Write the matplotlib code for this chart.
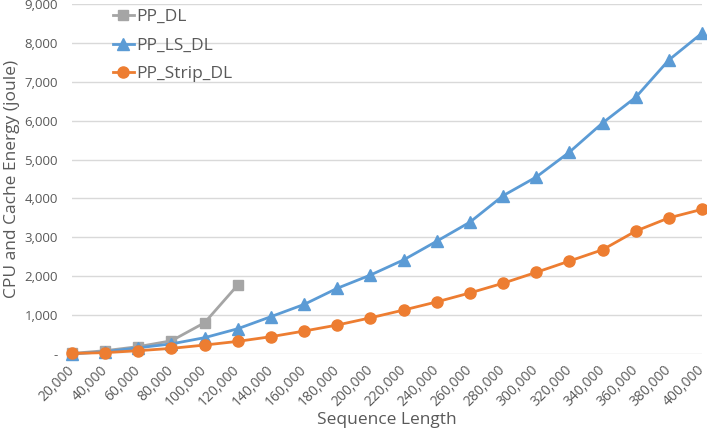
import matplotlib
matplotlib.use("Agg")
import matplotlib.pyplot as plt
from matplotlib.ticker import FuncFormatter

categories = ["20,000", "40,000", "60,000", "80,000", "100,000", "120,000", "140,000",
              "160,000", "180,000", "200,000", "220,000", "240,000", "260,000", "280,000",
              "300,000", "320,000", "340,000", "360,000", "380,000", "400,000"]
pp_dl = [15, 85, 190, 340, 805, 1775]
pp_ls_dl = [0, 60, 160, 260, 420, 650, 960, 1275, 1690, 2030, 2420, 2900, 3390, 4070,
            4550, 5190, 5940, 6600, 7560, 8250]
pp_strip_dl = [15, 35, 85, 145, 230, 325, 445, 590, 745, 930, 1130, 1340, 1570, 1820,
               2100, 2390, 2680, 3160, 3500, 3720]
yticks = [0, 1000, 2000, 3000, 4000, 5000, 6000, 7000, 8000, 9000]

plt.rcParams['font.family'] = ['Open Sans', 'DejaVu Sans']
fig = plt.figure(figsize=(7.07, 4.30), dpi=100)
ax = fig.add_axes([72/707, 1-354/430, 630/707, 350/430])

x = list(range(len(categories)))
ax.plot(x[:len(pp_dl)], pp_dl, color='#A5A5A5', marker='s', markersize=7, lw=2, label='PP_DL', clip_on=False, zorder=3)
ax.plot(x, pp_ls_dl, color='#5B9BD5', marker='^', markersize=8, lw=2, label='PP_LS_DL', clip_on=False, zorder=4)
ax.plot(x, pp_strip_dl, color='#ED7D31', marker='o', markersize=8, lw=2, label='PP_Strip_DL', clip_on=False, zorder=5)

ax.set_xlim(0, len(categories)-1)
ax.set_ylim(0, 9000)
ax.set_yticks(yticks)
ax.yaxis.set_major_formatter(FuncFormatter(lambda v, p: '-' if v == 0 else f'{int(v):,}'))
ax.set_xticks(x)
ax.set_xticklabels(categories, rotation=45, ha='right', va='center', rotation_mode='anchor')
ax.grid(axis='y', color='#D9D9D9', lw=1)
ax.set_axisbelow(True)
for s in ax.spines.values():
    s.set_visible(False)
ax.tick_params(axis='both', length=0, labelsize=9.5, colors='#595959')
ax.tick_params(axis='x', pad=10, labelsize=10)
ax.tick_params(axis='y', pad=10)

ax.set_xlabel('Sequence Length', fontsize=12.5, color='#595959', va='center')
ax.xaxis.set_label_coords(0.5, (354 - 420) / 350)
ax.set_ylabel('CPU and Cache Energy (joule)', fontsize=12.5, color='#595959', va='center')
ax.yaxis.set_label_coords((12 - 72) / 630, 0.5)

leg = ax.legend(loc='upper left', bbox_to_anchor=(0.04, 1.03), frameon=False, fontsize=12.5,
                handlelength=1.2, labelspacing=0.7, handletextpad=0.15, labelcolor='#595959')

fig.savefig('out.png', dpi=100)
